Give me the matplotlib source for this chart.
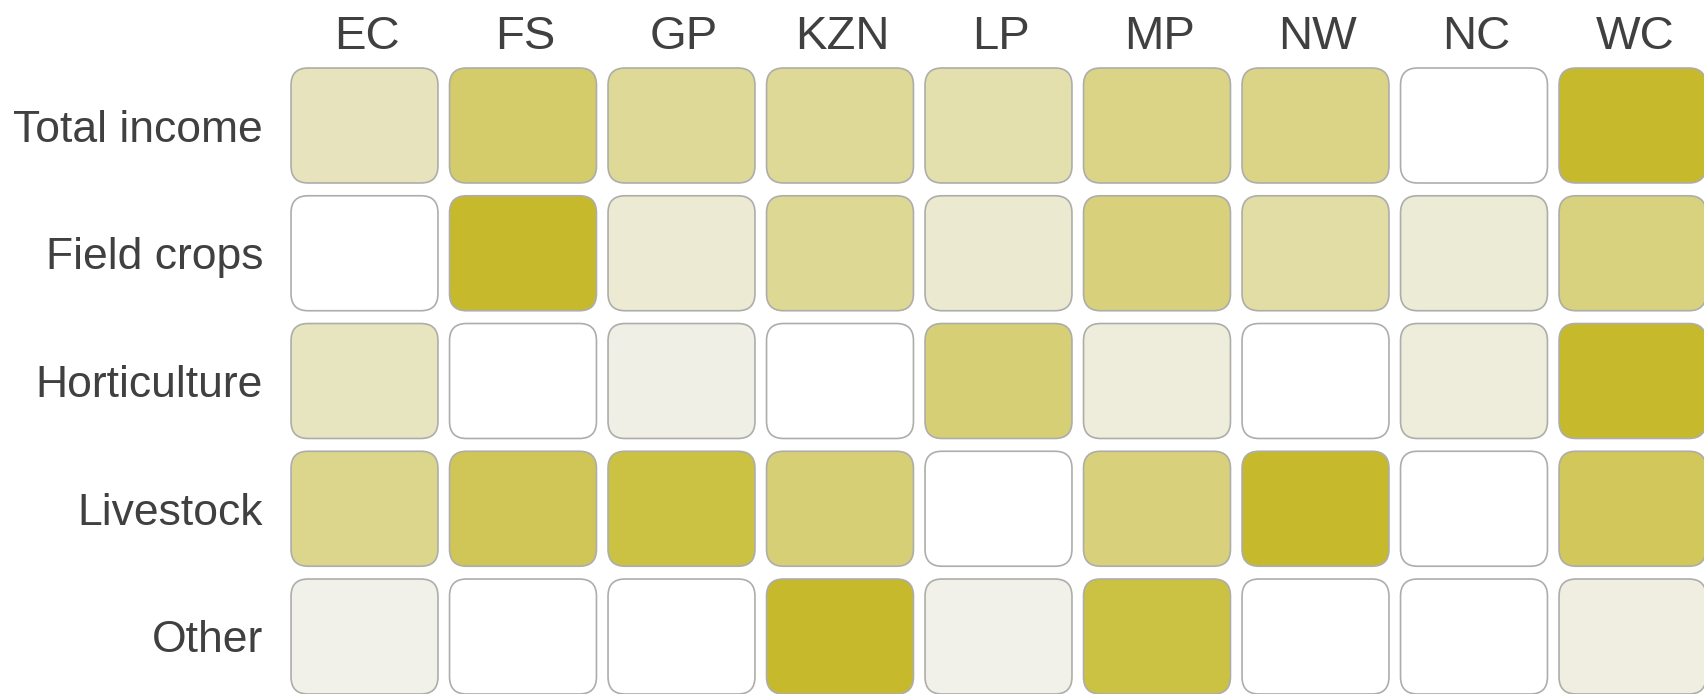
import matplotlib
matplotlib.use("Agg")
import matplotlib.pyplot as plt
from matplotlib.patches import FancyBboxPatch
from matplotlib.colors import LinearSegmentedColormap, Normalize
import numpy as np

provinces = ['EC', 'FS', 'GP', 'KZN', 'LP', 'MP', 'NW', 'NC', 'WC']
categories = ['Total income', 'Field crops', 'Horticulture', 'Livestock', 'Other']

total_income = [25, 68, 45, 45, 33, 53, 53, 0, 100]
field_crops = [0, 100, 14, 46, 16, 60, 38, 13, 58]
horticulture = [24, 0, 5, 0, 62, 10, 0, 10, 100]
livestock = [50, 78, 88, 62, 0, 60, 100, 0, 76]
other = [2, 0, 0, 100, 2, 88, 0, 0, 7]

values = np.array([total_income, field_crops, horticulture, livestock, other], dtype=float)

W, H, DPI = 1704, 694, 100
fig = plt.figure(figsize=(W / DPI, H / DPI), dpi=DPI)
fig.patch.set_facecolor('white')

# layout (pixels) used only to place the axes
col0_c, col_pitch = 364.5, 158.5
row0_c, row_pitch = 125.5, 127.75
left_px = col0_c - col_pitch / 2
top_px = row0_c - row_pitch / 2
ax = fig.add_axes([left_px / W, 0, (W - left_px) / W, (H - top_px) / H])
ax.set_xlim(-0.5, (W - col0_c) / col_pitch)
ax.set_ylim((H - row0_c) / row_pitch, -0.5)
ax.axis('off')

cmap = LinearSegmentedColormap.from_list('olive', ['#f2f2ee', '#dcd68d', '#c6ba2c'])
norm = Normalize(vmin=0, vmax=100)

cw, ch = 0.927, 0.900
aspect = col_pitch / row_pitch
r = 17 / col_pitch

for j, cat in enumerate(categories):
    for i, prov in enumerate(provinces):
        v = values[j, i]
        fc = 'white' if v == 0 else cmap(norm(v))
        patch = FancyBboxPatch((i - cw / 2, j - ch / 2), cw, ch,
                               boxstyle=f"round,pad=0,rounding_size={r}",
                               mutation_aspect=aspect,
                               facecolor=fc, edgecolor='#adadaa', linewidth=1.2,
                               clip_on=False)
        ax.add_patch(patch)

txt_color = '#404040'
font = 'Liberation Sans'
col_label_y = (49 - row0_c) / row_pitch
for i, prov in enumerate(provinces):
    ax.text(i + 0.015, col_label_y, prov, ha='center', va='baseline',
            fontsize=34, color=txt_color, family=font)

row_label_x = (263 - col0_c) / col_pitch
for j, cat in enumerate(categories):
    ax.text(row_label_x, j, cat, ha='right', va='center_baseline',
            fontsize=32, color=txt_color, family=font)

fig.savefig('out.png', dpi=DPI, facecolor='white')
